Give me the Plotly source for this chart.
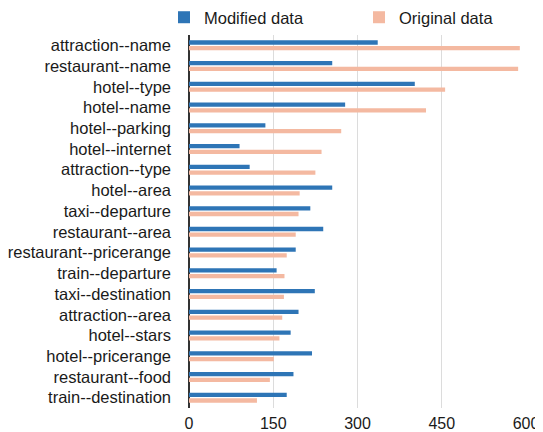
import plotly.graph_objects as go

categories = ["attraction--name", "restaurant--name", "hotel--type", "hotel--name",
              "hotel--parking", "hotel--internet", "attraction--type", "hotel--area",
              "taxi--departure", "restaurant--area", "restaurant--pricerange",
              "train--departure", "taxi--destination", "attraction--area", "hotel--stars",
              "hotel--pricerange", "restaurant--food", "train--destination"]
modified = [336, 255, 402, 278, 136, 90, 108, 255, 216, 239, 190, 156, 224, 195, 181, 219, 186, 174]
original = [589, 586, 456, 422, 271, 236, 225, 197, 195, 190, 174, 170, 169, 166, 161, 151, 144, 121]
x_ticks = [0, 150, 300, 450, 600]

BLUE = "rgb(46,117,182)"
SALMON = "rgb(244,185,161)"
FONT = "Liberation Sans, Arial, Helvetica, sans-serif"

# the page body adds an 8px offset; figure coordinates compensate for it
L, R, T, B = 181, 25, 27, 31.5
PW = 543 - L - R
PH = 432 - T - B

fig = go.Figure()
fig.add_trace(go.Bar(y=categories, x=modified, orientation="h", name="Modified data",
                     marker=dict(color=BLUE, line=dict(width=0)), legend="legend"))
fig.add_trace(go.Bar(y=categories, x=original, orientation="h", name="Original data",
                     marker=dict(color=SALMON, line=dict(width=0)), legend="legend2"))

leg_common = dict(orientation="h", xanchor="left", yanchor="bottom", yref="paper",
                  y=1.0, font=dict(size=16.5), bgcolor="rgba(0,0,0,0)", borderwidth=0)

fig.update_layout(
    width=543, height=432,
    margin=dict(l=L, r=R, t=T, b=B, pad=0, autoexpand=False),
    paper_bgcolor="white", plot_bgcolor="white",
    font=dict(family=FONT, size=16.5, color="#1a1a1a"),
    barmode="group", bargap=0.45, bargroupgap=0.25,
    showlegend=True,
    legend=dict(x=(156 - L) / PW, **leg_common),
    legend2=dict(x=(351 - L) / PW, **leg_common),
    xaxis=dict(range=[0, 600], tickvals=x_ticks, ticktext=[str(v) for v in x_ticks],
               showgrid=True, gridcolor="#dcdcdc", gridwidth=1,
               zeroline=True, zerolinecolor="#333333", zerolinewidth=1.5,
               showline=False, ticks="", tickfont=dict(size=16),
               ticklabelstandoff=4, automargin=False),
    yaxis=dict(autorange="reversed", showgrid=False, zeroline=False, showline=False,
               ticks="", ticklabelstandoff=17, tickfont=dict(size=16.5), automargin=False),
)

fig.write_html("out.html")
